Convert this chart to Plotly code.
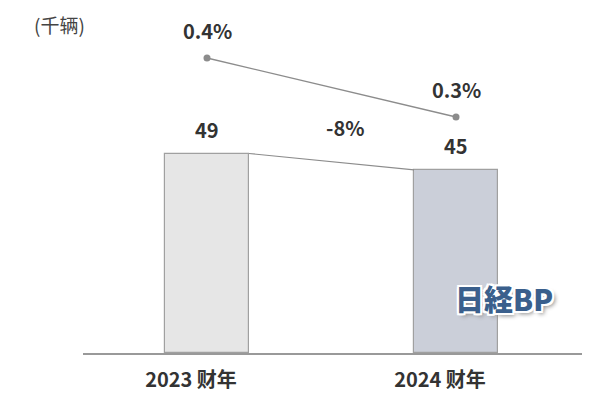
import plotly.graph_objects as go

categories = ["2023 财年", "2024 财年"]
volumes = [49, 45]            # 千辆
shares = [0.4, 0.3]           # %
share_labels = ["0.4%", "0.3%"]
change_label = "-8%"
unit_label = "(千辆)"

bar_fill = ["#e6e6e6", "#cbcfd9"]
bar_line = "#a0a0a0"
text_color = "#333333"
FONT = "Noto Sans CJK SC"
bar_w = 0.337

xs = list(range(len(categories)))

fig = go.Figure()
fig.add_trace(go.Bar(
    x=xs, y=volumes, width=bar_w,
    marker=dict(color=bar_fill, line=dict(color=bar_line, width=1.2)),
    hoverinfo="skip", showlegend=False,
))
# connector between bar tops
fig.add_trace(go.Scatter(
    x=[xs[0] + bar_w / 2, xs[1] - bar_w / 2], y=volumes,
    mode="lines", line=dict(color="#8c8c8c", width=1.2),
    hoverinfo="skip", showlegend=False,
))
# share line
fig.add_trace(go.Scatter(
    x=xs, y=shares, yaxis="y2", mode="lines+markers",
    line=dict(color="#8c8c8c", width=1.4),
    marker=dict(color="#8c8c8c", size=7),
    hoverinfo="skip", showlegend=False,
))

lab_font = dict(family=FONT, size=20, color=text_color, weight=600)
ann = []
for x, v in zip(xs, volumes):
    ann.append(dict(x=x, y=v, xref="x", yref="y", text=str(v), showarrow=False,
                    yshift=24, font=lab_font))
for x, v, t in zip(xs, shares, share_labels):
    ann.append(dict(x=x, y=v, xref="x", yref="y2", text=t, showarrow=False,
                    yshift=28, font=lab_font))
ann.append(dict(x=0.5, y=sum(volumes) / 2, xref="x", yref="y", text=change_label,
                showarrow=False, xshift=13, yshift=34, font=lab_font))
ann.append(dict(x=-0.102, y=0.932, xref="paper", yref="paper", text=unit_label,
                showarrow=False, xanchor="left", yanchor="middle",
                font=dict(family=FONT, size=19, color="#444444")))
white_stroke = ", ".join(f"{dx}px {dy}px 0px #ffffff" for dx, dy in
                         [(-2, 0), (2, 0), (0, -2), (0, 2), (-2, -2), (2, 2), (-2, 2), (2, -2)])
ann.append(dict(x=0.741, y=0.156, xref="paper", yref="paper", text="日経BP",
                showarrow=False, xanchor="left", yanchor="middle",
                font=dict(family="Noto Sans CJK JP", size=29, color="#3a5f8c", weight=900,
                          shadow=white_stroke + ", 3px 3px 4px #8a8a8a")))

fig.update_layout(
    width=600, height=398,
    margin=dict(l=83, r=18, t=0, b=45),
    paper_bgcolor="white", plot_bgcolor="white",
    bargap=0,
    xaxis=dict(range=[-0.498, 1.506], tickvals=xs, ticktext=categories,
               showgrid=False, zeroline=False, showline=True, linecolor="#999999",
               linewidth=1.5, ticks="", fixedrange=True, ticklabelstandoff=8,
               ticklabelshift=-16,
               tickfont=dict(family=FONT, size=20, color=text_color, weight=600)),
    yaxis=dict(range=[0, 86.7], visible=False, fixedrange=True),
    yaxis2=dict(range=[-0.1, 0.4983], overlaying="y", visible=False, fixedrange=True),
    annotations=ann,
)

fig.write_html("out.html")
